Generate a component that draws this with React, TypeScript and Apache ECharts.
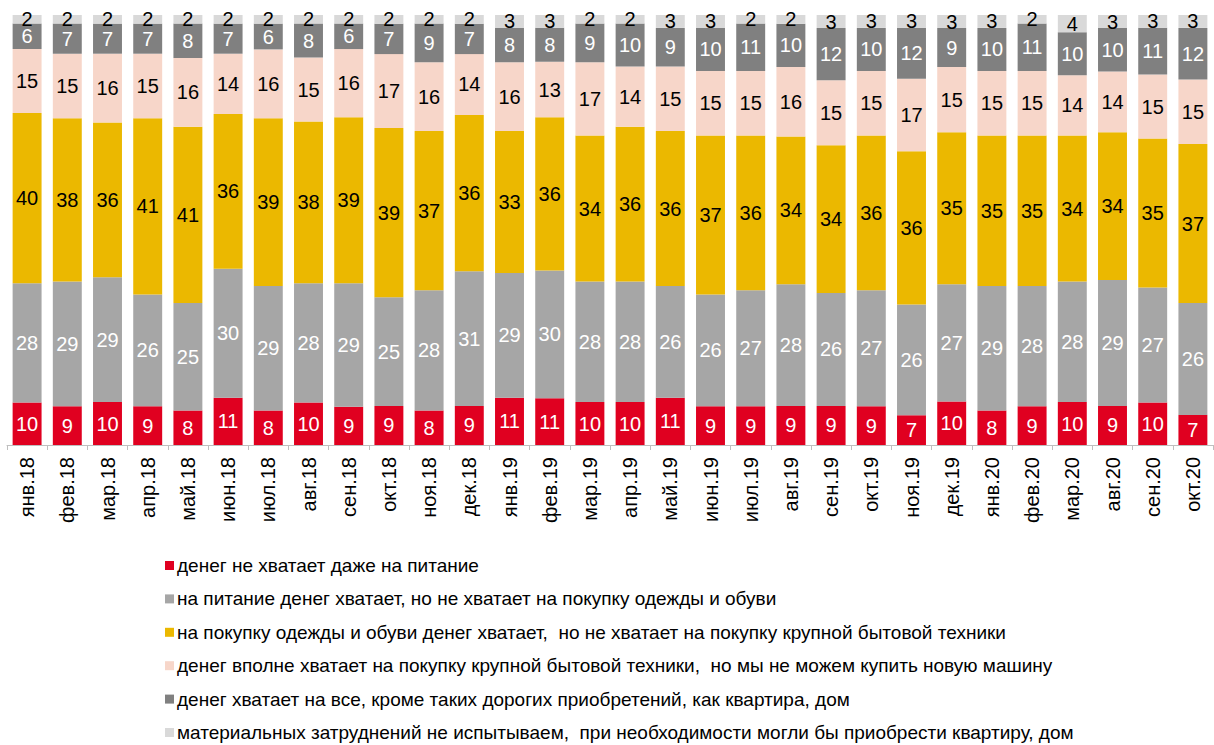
import React, { useEffect, useRef } from "react";
import * as echarts from "echarts";

const categories = [
  "янв.18", "фев.18", "мар.18", "апр.18", "май.18", "июн.18", "июл.18", "авг.18", "сен.18", "окт.18",
  "ноя.18", "дек.18", "янв.19", "фев.19", "мар.19", "апр.19", "май.19", "июн.19", "июл.19", "авг.19",
  "сен.19", "окт.19", "ноя.19", "дек.19", "янв.20", "фев.20", "мар.20", "авг.20", "сен.20", "окт.20",
];

const seriesNames = [
  "денег не хватает даже на питание",
  "на питание денег хватает, но не хватает на покупку одежды и обуви",
  "на покупку одежды и обуви денег хватает,  но не хватает на покупку крупной бытовой техники",
  "денег вполне хватает на покупку крупной бытовой техники,  но мы не можем купить новую машину",
  "денег хватает на все, кроме таких дорогих приобретений, как квартира, дом",
  "материальных затруднений не испытываем,  при необходимости могли бы приобрести квартиру, дом",
];

const noFood = [10, 9, 10, 9, 8, 11, 8, 10, 9, 9, 8, 9, 11, 11, 10, 10, 11, 9, 9, 9, 9, 9, 7, 10, 8, 9, 10, 9, 10, 7];
const noClothes = [28, 29, 29, 26, 25, 30, 29, 28, 29, 25, 28, 31, 29, 30, 28, 28, 26, 26, 27, 28, 26, 27, 26, 27, 29, 28, 28, 29, 27, 26];
const noAppliances = [40, 38, 36, 41, 41, 36, 39, 38, 39, 39, 37, 36, 33, 36, 34, 36, 36, 37, 36, 34, 34, 36, 36, 35, 35, 35, 34, 34, 35, 37];
const noCar = [15, 15, 16, 15, 16, 14, 16, 15, 16, 17, 16, 14, 16, 13, 17, 14, 15, 15, 15, 16, 15, 15, 17, 15, 15, 15, 14, 14, 15, 15];
const noFlat = [6, 7, 7, 7, 8, 7, 6, 8, 6, 7, 9, 7, 8, 8, 9, 10, 9, 10, 11, 10, 12, 10, 12, 9, 10, 11, 10, 10, 11, 12];
const noProblems = [2, 2, 2, 2, 2, 2, 2, 2, 2, 2, 2, 2, 3, 3, 2, 2, 3, 3, 2, 2, 3, 3, 3, 3, 3, 2, 4, 3, 3, 3];

const seriesValues = [noFood, noClothes, noAppliances, noCar, noFlat, noProblems];
const colors = ["#E00020", "#A6A6A6", "#EBB800", "#F7D6C9", "#808080", "#D9D9D9"];
const labelColors = ["#ffffff", "#ffffff", "#000000", "#000000", "#ffffff", "#000000"];

const FONT = "'Liberation Sans', Arial, sans-serif";

export default function App() {
  const ref = useRef<HTMLDivElement>(null);
  useEffect(() => {
    document.body.style.margin = "0";
    if (!ref.current) return;
    const chart = echarts.init(ref.current, undefined, { renderer: "svg" });
    const totals = categories.map((_, i) => seriesValues.reduce((s, arr) => s + arr[i], 0));
    const series = seriesValues.map((arr, si) => ({
      name: seriesNames[si],
      type: "bar",
      stack: "total",
      barCategoryGap: "28%",
      itemStyle: { color: colors[si] },
      label: {
        show: true,
        position: "inside",
        color: labelColors[si],
        fontSize: 20,
        fontFamily: FONT,
        formatter: (p: any) => String(arr[p.dataIndex]),
      },
      data: arr.map((v, i) => (v / totals[i]) * 100),
    }));
    chart.setOption({
      animation: false,
      textStyle: { fontFamily: FONT },
      grid: { left: 7, right: 1, top: 15, bottom: 300, containLabel: false },
      xAxis: {
        type: "category",
        data: categories,
        axisLine: { lineStyle: { color: "#BFBFBF", width: 1 } },
        axisTick: { show: true, length: 5, lineStyle: { color: "#BFBFBF" } },
        axisLabel: { rotate: 90, fontSize: 20, color: "#000000", margin: 12, fontFamily: FONT, interval: 0 },
      },
      yAxis: { type: "value", min: 0, max: 100, show: false, splitLine: { show: false } },
      legend: {
        orient: "vertical",
        left: 165,
        top: 556,
        itemWidth: 9,
        itemHeight: 9,
        itemGap: 14.4,
        padding: 0,
        icon: "rect",
        textStyle: { fontSize: 19, lineHeight: 19, color: "#000000", fontFamily: FONT, padding: [0, 0, 0, -2] },
        data: seriesNames,
      },
      series,
    });
    return () => chart.dispose();
  }, []);
  return <div ref={ref} style={{ width: 1214, height: 745 }} />;
}
